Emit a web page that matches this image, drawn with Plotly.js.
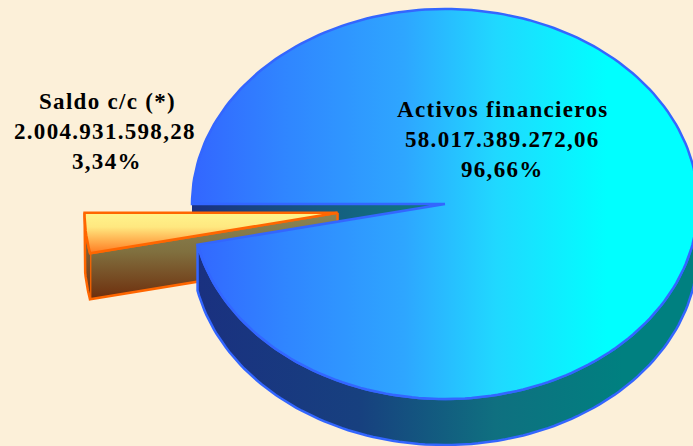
<!DOCTYPE html>
<html>
<head>
<meta charset="utf-8">
<script src="https://cdn.plot.ly/plotly-3.0.1.min.js"></script>
<style>
html,body{margin:0;padding:0;background:#fcf0d9;overflow:hidden}
#c{width:693px;height:446px}
.annotation-text{letter-spacing:1.3px}
</style>
</head>
<body>
<div id="c"></div>
<script>
// Data
const categories = ['Activos financieros', 'Saldo c/c (*)'];
const values = [58017389272.06, 2004931598.28];
const valueLabels = ['58.017.389.272,06', '2.004.931.598,28'];
const shareLabels = ['96,66%', '3,34%'];

// Pie geometry (plot units = px of the axes)
const cx = 445, cy = 204, rx = 253, ry = 195, depth = 46, explode = 0.427;
const total = values[0] + values[1];
const sweep = values.map(v => v / total * 360);
const rad = d => d * Math.PI / 180;
const start = 180;
const bigEnd = start + sweep[0];
const midSmall = bigEnd + sweep[1] / 2;
const ox = explode * rx * Math.cos(rad(midSmall));
const oy = explode * ry * Math.sin(rad(midSmall));

function arc(a0, a1, dx, dy) {
  const n = Math.max(2, Math.ceil(Math.abs(a1 - a0) / 1.5));
  const xs = [], ys = [];
  for (let i = 0; i <= n; i++) {
    const a = rad(a0 + (a1 - a0) * i / n);
    xs.push(cx + dx + rx * Math.cos(a));
    ys.push(cy + dy + ry * Math.sin(a));
  }
  return [xs, ys];
}
function poly(xs, ys, color, width, grad) {
  return {type:'scatter', mode:'lines', x:xs, y:ys, fill:'toself', hoverinfo:'skip',
    showlegend:false, line:{color:color, width:width, shape:'linear'}, fillgradient:grad};
}
const blue = '#3366ff', orange = '#ff6600';

// wall of the big slice seen through the gap
const wallX = [cx, cx - rx, cx - rx, cx];
const wallY = [cy, cy, cy + depth, cy + depth];
const wall = poly(wallX, wallY, 'rgba(0,0,0,0)', 0, {type:'horizontal', start:cx-rx, stop:cx,
  colorscale:[[0,'#1a3080'],[0.5,'#165a80'],[1,'#0d7f80']]});

// small slice
const [sx, sy] = arc(bigEnd, start + 360, ox, oy);
const tipX = cx + ox, tipY = cy + oy;
const smallWall = poly(
  [tipX, sx[0], sx[0], tipX, tipX],
  [tipY, sy[0], sy[0] + depth, tipY + depth, tipY],
  orange, 2.5, {type:'vertical', start:tipY, stop:sy[0] + depth,
    colorscale:[[0,'#8a8555'],[0.45,'#80703f'],[1,'#6e2d0c']]});
const smallRim = poly(
  sx.concat(sx.slice().reverse()),
  sy.concat(sy.map(v => v + depth).reverse()),
  orange, 2.5, {type:'vertical', start:tipY, stop:sy[0] + depth,
    colorscale:[[0,'#8a8555'],[1,'#6e2d0c']]});
const smallTop = poly(
  [tipX].concat(sx).concat([tipX]),
  [tipY].concat(sy).concat([tipY]),
  orange, 2.5, {type:'vertical', start:tipY, stop:sy[0],
    colorscale:[[0,'#fff48c'],[0.35,'#ffe880'],[1,'#ff7a20']]});

// big slice rim
const [rimX, rimY] = arc(360, bigEnd, 0, 0);
const bigRim = poly(
  rimX.concat(rimX.slice().reverse()),
  rimY.concat(rimY.map(v => v + depth).reverse()),
  blue, 2.5, {type:'horizontal', start:cx-rx, stop:cx+rx,
    colorscale:[[0,'#1a3080'],[0.33,'#17407f'],[0.6,'#0f7080'],[0.85,'#008080'],[1,'#008080']]});

// big slice top
const [bx, by] = arc(start, bigEnd, 0, 0);
const bigTop = poly(
  [cx].concat(bx).concat([cx]),
  [cy].concat(by).concat([cy]),
  blue, 2.5, {type:'horizontal', start:cx-rx, stop:cx+rx,
    colorscale:[[0,'#3366ff'],[0.18,'#3085ff'],[0.42,'#2ea6ff'],[0.6,'#20d8ff'],[0.82,'#00ffff'],[1,'#00ffff']]});

const textFont = {family:'"Liberation Serif", serif', size:23, color:'#000000', weight:700};
const annotations = [
  {x:502.5, y:109, text:categories[0]},
  {x:502, y:139, text:valueLabels[0]},
  {x:502.5, y:169, text:shareLabels[0]},
  {x:107.5, y:101, text:categories[1]},
  {x:104.5, y:131, text:valueLabels[1]},
  {x:107, y:161, text:shareLabels[1]}
].map(a => Object.assign(a, {xref:'x', yref:'y', showarrow:false, font:textFont, align:'center',
  xanchor:'center', yanchor:'middle'}));

Plotly.newPlot('c', [wall, smallWall, smallRim, smallTop, bigRim, bigTop], {
  width:693, height:446, margin:{l:0,r:0,t:0,b:0,pad:0},
  paper_bgcolor:'#fcf0d9', plot_bgcolor:'rgba(0,0,0,0)', showlegend:false,
  xaxis:{visible:false, range:[0,693], fixedrange:true},
  yaxis:{visible:false, range:[446,0], fixedrange:true},
  annotations:annotations
}, {staticPlot:true, displayModeBar:false});
</script>
</body>
</html>
